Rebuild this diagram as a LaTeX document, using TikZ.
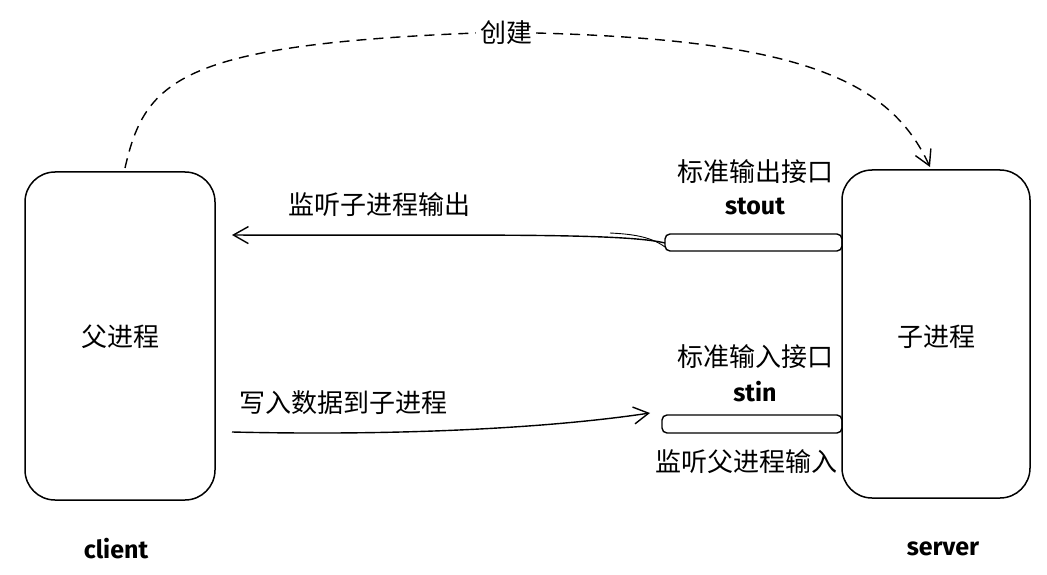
\documentclass[tikz,border=0pt]{standalone}
\usepackage{fontspec}
\setmainfont{Fira Sans}
\newfontfamily\cjk{Noto Sans CJK SC}
\usetikzlibrary{arrows.meta}
\begin{document}
\begin{tikzpicture}[x=1pt,y=-1pt,
  proc/.style={draw,line width=1.5pt,rounded corners=30pt},
  bar/.style={draw,line width=1.4pt,rounded corners=5pt},
  lbl/.style={font=\cjk\fontsize{26}{28}\selectfont,inner sep=1pt},
  code/.style={font=\bfseries\fontsize{25}{27}\selectfont,inner sep=1pt},
  conn/.style={line width=1.4pt,-{Straight Barb[length=15pt,width=17pt]}}]
\useasboundingbox (0,0) rectangle (1047,575);
\fill[white] (0,0) rectangle (1047,575);
\draw[proc] (25,172) rectangle (215,500);
\draw[proc] (842,170) rectangle (1030,498);
\node[lbl] (parent) at (120,337) {父进程};
\node[lbl] (child) at (936,337) {子进程};
\node[code] (client) at (116,549) {client};
\node[code] (server) at (943,549) {server};
% bars
\draw[bar] (665,234) rectangle (842,251);
\coordinate (outL) at (665,243);
\draw[bar] (662,415) rectangle (842,433);
\node[lbl] (outlbl) at (755,172) {标准输出接口};
\node[code] (stout) at (755,206) {stout};
\node[lbl] (inlbl) at (755,357) {标准输入接口};
\node[code] (stin) at (755,392) {stin};
\node[lbl] (inlisten) at (746,462) {监听父进程输入};
% arrows
\coordinate (a1end) at (232,235);
\draw[conn] (outL) .. controls (620,232) and (450,236) .. (a1end);
\draw[line width=0.9pt] (665,247) .. controls (650,236) and (630,234) .. (610,233);
\node[lbl] (listen) at (379,205) {监听子进程输出};
\coordinate (a2start) at (232,432);
\coordinate (a2end) at (650,413);
\draw[conn] (a2start) .. controls (400,436) and (550,428) .. (a2end);
\node[lbl] (write) at (343,403) {写入数据到子进程};
% create
\coordinate (cs) at (125,168);
\coordinate (ce) at (930,167);
\node[lbl,fill=white,inner sep=4pt] (create) at (506,33) {创建};
\draw[line width=1.4pt,dash pattern=on 10pt off 7pt] (cs) .. controls (145,80) and (180,45) .. (create.west);
\draw[line width=1.4pt,dash pattern=on 10pt off 7pt,-{Straight Barb[length=15pt,width=17pt]}] (create.east) .. controls (800,40) and (890,80) .. (ce);
\end{tikzpicture}
\end{document}
